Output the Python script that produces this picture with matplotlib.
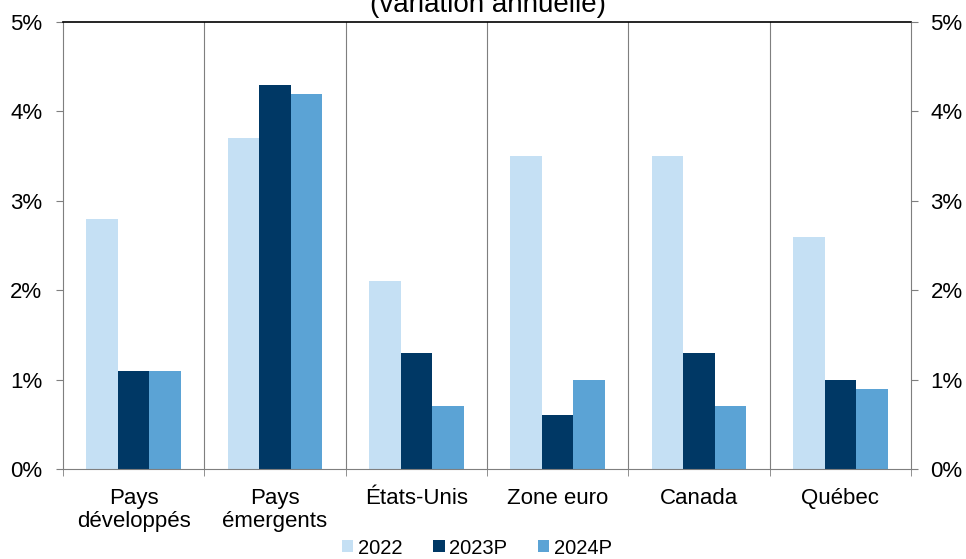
import matplotlib.pyplot as plt
import numpy as np
from matplotlib.ticker import FuncFormatter

plt.rcParams['font.family'] = ['Liberation Sans', 'DejaVu Sans']

categories = ["Pays\ndéveloppés", "Pays\némergents", "États-Unis", "Zone euro", "Canada", "Québec"]
series_names = ["2022", "2023P", "2024P"]
v2022 = [2.8, 3.7, 2.1, 3.5, 3.5, 2.6]
v2023 = [1.1, 4.3, 1.3, 0.6, 1.3, 1.0]
v2024 = [1.1, 4.2, 0.7, 1.0, 0.7, 0.9]
colors = ["#C5E0F4", "#003865", "#5BA3D5"]

fig = plt.figure(figsize=(9.66, 5.59), dpi=100)
ax = fig.add_axes([63 / 966, 1 - 469 / 559, (911 - 63) / 966, (469 - 22) / 559])

x = np.arange(len(categories))
w = 0.223
for i, (vals, name) in enumerate(zip([v2022, v2023, v2024], series_names)):
    ax.bar(x + (i - 1) * w, vals, width=w, color=colors[i], label=name, zorder=2)

ax.set_xlim(-0.5, len(categories) - 0.5)
ax.set_ylim(0, 5)
ax.set_yticks(range(6))
ax.yaxis.set_major_formatter(FuncFormatter(lambda v, p: f"{v:.0f}%"))

# category separators
for b in np.arange(0.5, len(categories) - 0.5, 1):
    ax.axvline(b, color="#7f7f7f", lw=0.8, zorder=1)

ax.set_xticks(x)
ax.set_xticklabels(categories, fontsize=16, linespacing=1.1)
ax.tick_params(axis="x", length=0, pad=14)
ax.set_xticks(np.arange(-0.5, len(categories), 1), minor=True)
ax.tick_params(axis="x", which="minor", length=5, color="#7f7f7f", direction="out")
ax.tick_params(axis="y", labelsize=16, length=5, color="#7f7f7f", pad=10)

for s in ["left", "right", "bottom"]:
    ax.spines[s].set_color("#7f7f7f")
    ax.spines[s].set_linewidth(0.8)
ax.spines["top"].set_color("black")
ax.spines["top"].set_linewidth(1.2)

ax2 = ax.twinx()
ax2.set_ylim(0, 5)
ax2.set_yticks(range(6))
ax2.yaxis.set_major_formatter(FuncFormatter(lambda v, p: f"{v:.0f}%"))
ax2.tick_params(axis="y", labelsize=16, length=5, color="#7f7f7f", pad=9)
for s in ax2.spines.values():
    s.set_visible(False)

fig.text(488 / 966, 1 - 12 / 559, "(variation annuelle)", ha="center", va="baseline", fontsize=20)

ax.legend(loc="center", bbox_to_anchor=(477 / 966, 1 - 548 / 559), bbox_transform=fig.transFigure,
          ncol=3, frameon=False, fontsize=14.5, handlelength=0.55, handleheight=0.55,
          handletextpad=0.22, columnspacing=1.55, borderaxespad=0, borderpad=0)

fig.savefig("out.png", dpi=100)
